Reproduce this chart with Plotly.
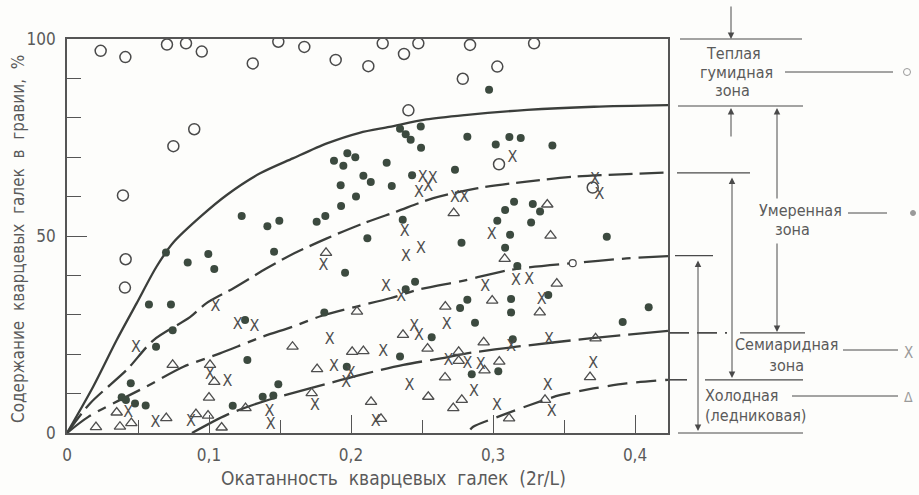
import plotly.graph_objects as go

# ---- data: roundness (2r/L) vs quartz pebble content in gravel, % ----
warm_x = [0.0237, 0.0411, 0.0704, 0.0838, 0.0949, 0.1308, 0.0896, 0.0749, 0.0394, 0.0413, 0.0408,
          0.1488, 0.1671, 0.1892, 0.2122, 0.2223, 0.2373, 0.2474, 0.2787, 0.2404, 0.2838, 0.3289,
          0.3030, 0.3042, 0.3702]
warm_y = [97.0, 95.4, 98.6, 98.9, 96.8, 93.8, 77.1, 72.8, 60.3, 44.1, 36.9,
          99.3, 98.0, 94.7, 93.1, 98.9, 96.2, 98.9, 89.9, 81.9, 98.5, 98.9,
          93.0, 68.2, 62.3]

temperate_x = [0.1230, 0.1411, 0.1495, 0.2345, 0.2385, 0.2420, 0.2491, 0.2493, 0.2819, 0.1974,
               0.2030, 0.1880, 0.1946, 0.2251, 0.2087, 0.2139, 0.1927, 0.2287, 0.2430, 0.2732,
               0.2035, 0.1930, 0.1819, 0.1758, 0.2364, 0.2115, 0.2972, 0.3019, 0.3115, 0.3195,
               0.3418, 0.3148, 0.3085, 0.3280, 0.3331, 0.3030, 0.3268, 0.3120, 0.3801, 0.2778,
               0.3085, 0.3171, 0.2819, 0.2768, 0.3127, 0.3127, 0.2873, 0.3389, 0.3913, 0.4096,
               0.3139, 0.2850, 0.3037, 0.1458, 0.1958, 0.2385, 0.2451, 0.1812, 0.2568, 0.2345,
               0.1970, 0.1488, 0.1453, 0.1378, 0.0697, 0.0850, 0.0995, 0.1037, 0.0577, 0.0732,
               0.0744, 0.0627, 0.1254, 0.1270, 0.0449, 0.0385, 0.0415, 0.0479, 0.0554, 0.1167]
temperate_y = [55.1, 52.5, 53.9, 77.2, 75.8, 74.4, 77.8, 72.4, 75.2, 71.0,
               70.0, 69.1, 67.8, 68.6, 65.3, 63.7, 62.9, 62.7, 65.4, 66.8,
               60.0, 57.6, 55.1, 53.6, 54.1, 49.4, 87.1, 73.2, 75.1, 74.9,
               73.0, 58.7, 56.6, 58.1, 56.2, 53.9, 53.4, 50.3, 49.8, 48.3,
               47.0, 42.4, 33.8, 31.7, 34.0, 30.6, 28.0, 35.0, 28.2, 31.9,
               23.8, 14.9, 15.7, 46.0, 40.7, 36.5, 38.4, 30.6, 24.3, 19.4,
               16.8, 12.4, 9.5, 9.2, 45.8, 43.3, 45.4, 41.6, 32.6, 32.6,
               26.1, 21.9, 28.7, 18.5, 12.6, 9.1, 8.4, 7.5, 7.0, 6.9]

semiarid_x = [0.2505, 0.2575, 0.2544, 0.2479, 0.2732, 0.2796, 0.2377, 0.3136, 0.3718, 0.3749,
              0.2991, 0.2387, 0.2493, 0.1805, 0.2246, 0.2354, 0.1849, 0.2444, 0.2479, 0.2674,
              0.2227, 0.1880, 0.1998, 0.1965, 0.2412, 0.2685, 0.2819, 0.2913, 0.1425, 0.1435,
              0.1746, 0.2173, 0.3162, 0.3254, 0.2944, 0.3343, 0.3394, 0.3127, 0.3706, 0.2866,
              0.3384, 0.3413, 0.3028, 0.1046, 0.1202, 0.1319, 0.0486, 0.1007, 0.1129, 0.0430,
              0.0623, 0.0873]
semiarid_y = [64.8, 64.5, 62.5, 60.8, 59.6, 59.6, 51.0, 69.9, 64.2, 60.4,
              50.3, 44.6, 46.7, 42.4, 37.1, 34.4, 23.6, 27.0, 24.5, 27.4,
              20.6, 16.8, 15.0, 12.8, 11.9, 18.2, 17.4, 17.3, 5.4, 2.0,
              6.9, 2.9, 38.7, 38.8, 37.1, 33.8, 23.7, 21.8, 17.4, 10.4,
              11.9, 5.4, 6.8, 32.1, 27.4, 27.0, 21.5, 14.8, 13.0, 5.2,
              2.6, 2.8]

cold_x = [0.0744, 0.1007, 0.1037, 0.1000, 0.0993, 0.0908, 0.1089, 0.0699, 0.0453, 0.0373,
          0.0204, 0.0350, 0.1257, 0.1824, 0.2042, 0.1588, 0.2008, 0.2087, 0.1761, 0.1723,
          0.2141, 0.2211, 0.2366, 0.2539, 0.2664, 0.2662, 0.2544, 0.2758, 0.2758, 0.2720,
          0.2780, 0.2723, 0.3382, 0.3405, 0.3082, 0.3449, 0.2994, 0.3329, 0.2934, 0.3044,
          0.2940, 0.3366, 0.3113, 0.3722, 0.3683]
cold_y = [17.3, 17.3, 13.0, 9.0, 4.4, 4.8, 1.4, 3.8, 2.5, 1.6,
          1.5, 5.2, 6.3, 45.7, 30.8, 21.9, 20.6, 20.8, 16.2, 10.1,
          7.9, 3.6, 24.9, 21.4, 32.1, 14.1, 9.2, 20.6, 18.3, 6.3,
          8.4, 55.8, 58.0, 50.1, 44.2, 37.9, 33.6, 30.6, 23.0, 18.1,
          15.9, 8.4, 3.7, 24.0, 14.2]

# zone boundary curves
c1_x = [0, 0.0185, 0.035, 0.049, 0.063, 0.075, 0.094, 0.1125, 0.136, 0.159, 0.183, 0.206,
        0.227, 0.253, 0.28, 0.324, 0.371, 0.4232]
c1_y = [0, 11.8, 23.6, 32.9, 42.2, 48.4, 54.9, 60.4, 65.9, 69.7, 73.5, 76.2,
        77.7, 79.6, 80.7, 82.0, 82.8, 83.2]
c2_x = [0, 0.0162, 0.042, 0.061, 0.0866, 0.098, 0.117, 0.1406, 0.16, 0.183, 0.2087, 0.232,
        0.258, 0.2885, 0.3237, 0.359, 0.4232]
c2_y = [0, 7.5, 16.0, 23.6, 29.4, 32.9, 36.7, 41.8, 45.6, 49.4, 53.2, 56.2,
        59.6, 62.1, 63.8, 65.1, 66.1]
c3_x = [0, 0.015, 0.056, 0.082, 0.1077, 0.137, 0.159, 0.179, 0.204, 0.2275, 0.2486, 0.2795,
        0.312, 0.356, 0.394, 0.4232]
c3_y = [0, 4.1, 11.8, 16.8, 20.2, 24.35, 27.0, 29.7, 32.1, 34.2, 36.5, 38.7,
        41.4, 43.1, 44.3, 44.9]
c4_x = [0.088, 0.1125, 0.139, 0.171, 0.206, 0.2368, 0.2674, 0.2815, 0.3167, 0.368, 0.4232]
c4_y = [0, 4.6, 8.1, 11.3, 14.7, 17.3, 19.2, 20.2, 21.9, 24.0, 25.9]
c5_x = [0.284, 0.286, 0.307, 0.326, 0.347, 0.3706, 0.394, 0.4232]
c5_y = [0.9, 1.6, 4.6, 7.1, 9.6, 11.3, 12.6, 13.5]

# small ring marked on the third curve
ring_x = [0.3561]
ring_y = [43.1]

x_tick_vals = [0, 0.1, 0.2, 0.3, 0.4]
x_tick_text = ["0", "0,1", "0,2", "0,3", "0,4"]
y_tick_vals = [0, 50, 100]
y_tick_text = ["0", "50", "100"]

# zone boundary levels, % (end values of the curves)
lvl_warm_top, lvl_warm_low, lvl_temp_low, lvl_mid, lvl_semi, lvl_cold_top, lvl_zero = 100, 83, 66, 45, 25.4, 13.5, 0

X_MAX = 0.4232
FONT = "Liberation Sans Narrow, DejaVu Sans Condensed, sans-serif"
INK = "#3b3e3b"
DOT = "#3c4a3f"
TXT = "#5a5a5a"
MARK = "#4e4e4e"

W, H = 919, 495
L, R, T, B = 67, 251, 39, 62
PW, PH = W - L - R, H - T - B


def px(xpix):
    """pixel column -> paper x"""
    return (xpix - L) / PW


def py(ypix):
    """pixel row -> paper y"""
    return (H - B - ypix) / PH


def lv(v):
    """percent level -> paper y"""
    return v / 100.0


fig = go.Figure()

line_specs = [
    (c1_x, c1_y, "solid"),
    (c2_x, c2_y, "24px,7px"),
    (c3_x, c3_y, "30px,8px,9px,8px"),
    (c4_x, c4_y, "42px,8px"),
    (c5_x, c5_y, "20px,9px"),
]
for lx, ly, dash in line_specs:
    fig.add_trace(go.Scatter(x=lx, y=ly, mode="lines",
                             line=dict(color=INK, width=2.3, dash=dash,
                                       shape="spline", smoothing=0.8),
                             hoverinfo="skip", showlegend=False))

fig.add_trace(go.Scatter(x=warm_x, y=warm_y, mode="markers", showlegend=False,
                         marker=dict(symbol="circle-open", size=11, color="#4a4a4a",
                                     line=dict(width=1.5, color="#4a4a4a"))))
fig.add_trace(go.Scatter(x=ring_x, y=ring_y, mode="markers", showlegend=False,
                         marker=dict(symbol="circle", size=7, color="white",
                                     line=dict(width=1.2, color="#4a4a4a"))))
fig.add_trace(go.Scatter(x=temperate_x, y=temperate_y, mode="markers", showlegend=False,
                         marker=dict(symbol="circle", size=8, color=DOT)))
# semiarid samples are marked with the letter X
fig.add_trace(go.Scatter(x=semiarid_x, y=semiarid_y, mode="text", text=["X"] * len(semiarid_x),
                         textposition="middle center", showlegend=False,
                         textfont=dict(family=FONT, size=16, color=MARK)))
fig.add_trace(go.Scatter(x=cold_x, y=cold_y, mode="markers", showlegend=False,
                         marker=dict(symbol="triangle-up-open", size=10, color=MARK,
                                     line=dict(width=1.3, color=MARK))))

shapes = []


def hline(x0, x1, yv, dash="solid", width=1.2):
    shapes.append(dict(type="line", xref="paper", yref="paper", x0=px(x0), x1=px(x1),
                       y0=yv, y1=yv, line=dict(color="#4a4a4a", width=width, dash=dash)))


# zone boundary marks to the right of the frame
hline(680, 802, lv(lvl_warm_top))
hline(678, 803, lv(lvl_warm_low))
hline(677, 750, lv(lvl_temp_low))
hline(675, 713, lv(lvl_mid))
hline(669, 727, lv(lvl_semi), dash="20px,8px", width=1.6)
hline(740, 805, lv(lvl_semi))
hline(669, 695, lv(lvl_cold_top), dash="18px,8px", width=1.6)
hline(705, 803, lv(lvl_cold_top))
hline(678, 803, lv(lvl_zero))
# leader lines to the key symbols
hline(785, 893, py(72), width=1.0)
hline(848, 887, py(213), width=1.0)
hline(843, 898, py(350), width=1.0)
hline(792, 898, py(396), width=1.0)
# key symbols
shapes.append(dict(type="circle", xref="paper", yref="paper",
                   x0=px(903.5), x1=px(910.5), y0=py(75.5), y1=py(68.5),
                   line=dict(color="#9a9a9a", width=1)))
shapes.append(dict(type="circle", xref="paper", yref="paper",
                   x0=px(910.5), x1=px(915.5), y0=py(215.5), y1=py(210.5),
                   fillcolor="#9a9a9a", line=dict(color="#9a9a9a", width=1)))
fig.update_layout(shapes=shapes)

ann = []


def text(s, xpix, ypix, xanchor="center", size=16, color=TXT):
    ann.append(dict(text=s, xref="paper", yref="paper", x=px(xpix), y=py(ypix),
                    xanchor=xanchor, yanchor="middle", showarrow=False,
                    font=dict(family=FONT, size=size, color=color)))


def arrow(xpix, head_y, tail_y, both=False):
    ann.append(dict(text="", xref="paper", yref="paper", x=px(xpix), y=py(head_y),
                    ax=0, ay=tail_y - head_y, axref="pixel", ayref="pixel",
                    showarrow=True, arrowhead=2, arrowsize=1.3, arrowwidth=1.0,
                    arrowside="end+start" if both else "end",
                    startarrowhead=2, startarrowsize=1.3,
                    arrowcolor="#4a4a4a"))


text("Теплая", 734, 53)
text("гумидная", 737, 72)
text("зона", 732, 91)
text("Умеренная", 800, 210)
text("зона", 792, 230)
text("Семиаридная<br>зона", 786, 355)
text("Холодная", 703, 395, xanchor="left")
text("(ледниковая)", 703, 415, xanchor="left")
text("X", 908, 353, size=15, color="#9a9a9a")
text("Δ", 908, 397, size=14, color="#9a9a9a")

arrow(731, 39, 5)
arrow(731, 108, 138)
arrow(777, 108, 200)
arrow(777, 332, 242)
arrow(732, 378, 176, both=True)
arrow(698, 431, 259, both=True)

# axis titles
ann.append(dict(text="Содержание  кварцевых  галек  в  гравии,  %", xref="paper", yref="paper",
                x=px(18), y=py(239), textangle=-90, showarrow=False,
                xanchor="center", yanchor="middle",
                font=dict(family=FONT, size=17, color=TXT)))
ann.append(dict(text="Окатанность  кварцевых  галек  (2r/L)", xref="paper", yref="paper",
                x=px(393), y=py(478), showarrow=False, xanchor="center", yanchor="middle",
                font=dict(family=FONT, size=19, color=TXT)))
fig.update_layout(annotations=ann)

axis_common = dict(showgrid=False, zeroline=False, showline=True, mirror=True,
                   linecolor="#555555", linewidth=1.6, ticks="inside", tickcolor="#555555",
                   tickwidth=1.4, tickfont=dict(family=FONT, size=17, color=TXT))

fig.update_xaxes(range=[0, X_MAX], tickmode="array", tickvals=x_tick_vals, ticktext=x_tick_text,
                 ticklen=18, ticklabelstandoff=6,
                 minor=dict(tickmode="linear", tick0=0, dtick=0.05, ticks="inside", ticklen=13,
                            tickcolor="#555555", tickwidth=1.4),
                 **axis_common)
fig.update_yaxes(range=[0, 100], tickmode="array", tickvals=y_tick_vals, ticktext=y_tick_text,
                 ticklen=20, ticklabelstandoff=6,
                 minor=dict(tickmode="linear", tick0=0, dtick=10, ticks="inside", ticklen=14,
                            tickcolor="#555555", tickwidth=1.4),
                 **axis_common)

fig.update_layout(width=W, height=H, margin=dict(l=L, r=R, t=T, b=B, pad=0),
                  plot_bgcolor="#fdfdfb", paper_bgcolor="#fdfdfb", showlegend=False)

fig.write_html("out.html")
